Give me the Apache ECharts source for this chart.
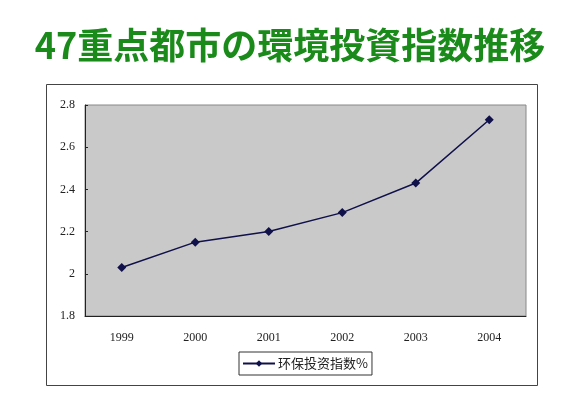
<!DOCTYPE html>
<html>
<head>
<meta charset="utf-8">
<script src="https://cdn.jsdelivr.net/npm/echarts@6/dist/echarts.min.js"></script>
<style>html,body{margin:0;padding:0;background:#fff;}#c{width:580px;height:410px;}</style>
</head>
<body>
<div id="c"></div>
<script>
var years = ['1999', '2000', '2001', '2002', '2003', '2004'];
var indexValues = [2.03, 2.15, 2.20, 2.29, 2.43, 2.73];
var seriesName = '环保投资指数%';
var titleText = '47重点都市の環境投資指数推移';

var chart = echarts.init(document.getElementById('c'));
chart.setOption({
  animation: false,
  backgroundColor: '#ffffff',
  title: {
    text: titleText,
    left: 'center',
    top: 22,
    textStyle: {
      color: '#1a8a1a',
      fontSize: 36,
      fontWeight: 'bold',
      fontFamily: 'Noto Sans CJK JP'
    }
  },
  graphic: [{
    type: 'rect',
    left: 44, top: 82,
    shape: { width: 491, height: 301 },
    style: { fill: 'none', stroke: '#444', lineWidth: 1 },
    z: -1
  }],
  grid: {
    left: 85, right: 54, top: 105, bottom: 94,
    show: true,
    backgroundColor: '#c9c9c9',
    borderColor: '#888',
    borderWidth: 1
  },
  legend: {
    data: [seriesName],
    left: 239, top: 352,
    itemWidth: 32, itemHeight: 8,
    itemGap: 4,
    padding: [5, 4, 5, 3],
    borderColor: '#333', borderWidth: 1,
    textStyle: { fontFamily: 'Noto Sans CJK SC', fontSize: 13, color: '#222', padding: [0, 0, 0, -2] }
  },
  xAxis: {
    type: 'category',
    data: years,
    boundaryGap: true,
    axisLine: { lineStyle: { color: '#222', width: 1 } },
    axisTick: { inside: true, length: 3, lineStyle: { color: '#222' } },
    axisLabel: { margin: 16, fontFamily: 'Liberation Serif', fontSize: 12, color: '#222' },
    splitLine: { show: false }
  },
  yAxis: {
    type: 'value',
    min: 1.8, max: 2.8, interval: 0.2,
    axisLine: { show: true, lineStyle: { color: '#222', width: 1 } },
    axisTick: { show: true, inside: true, length: 3, lineStyle: { color: '#222' } },
    axisLabel: {
      margin: 10, fontFamily: 'Liberation Serif', fontSize: 12, color: '#222',
      formatter: function (v) { return String(Math.round(v * 10) / 10); }
    },
    splitLine: { show: false }
  },
  series: [{
    name: seriesName,
    type: 'line',
    data: indexValues,
    symbol: 'diamond',
    symbolSize: 9,
    lineStyle: { color: '#10104a', width: 1.5 },
    itemStyle: { color: '#10104a' }
  }]
});
</script>
</body>
</html>
